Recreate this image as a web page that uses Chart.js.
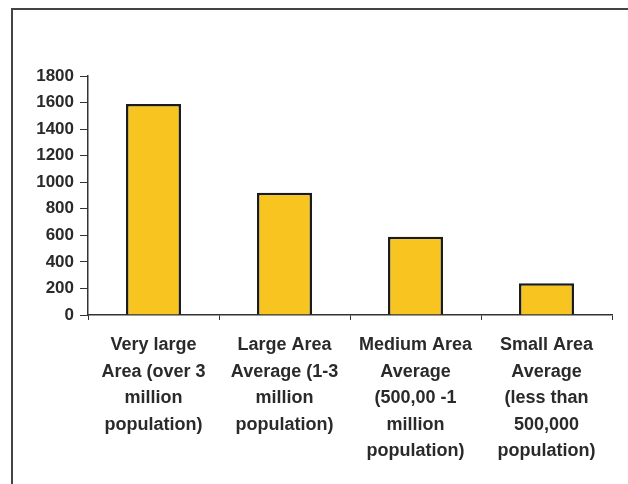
<!DOCTYPE html>
<html>
<head>
<meta charset="utf-8">
<script src="https://cdn.jsdelivr.net/npm/chart.js@4/dist/chart.umd.min.js"></script>
<style>
  html, body { margin: 0; padding: 0; background: #fff; }
  #wrap { position: relative; width: 628px; height: 484px; }
  #frame { position: absolute; left: 11px; top: 8px; right: 0; bottom: 0;
           border-top: 2px solid #444; border-left: 2px solid #444; }
  canvas { position: absolute; left: 0; top: 0; }
</style>
</head>
<body>
<div id="wrap">
  <div id="frame"></div>
  <canvas id="area_chart" width="628" height="484"></canvas>
</div>
<script>
var categories = [
  ['Very large', 'Area (over 3', 'million', 'population)'],
  ['Large Area', 'Average (1-3', 'million', 'population)'],
  ['Medium Area', 'Average', '(500,00 -1', 'million', 'population)'],
  ['Small Area', 'Average', '(less than', '500,000', 'population)']
];
var values = [1590, 920, 590, 240];
var yTicks = [0, 200, 400, 600, 800, 1000, 1200, 1400, 1600, 1800];

const area_chart = document.querySelector("#area_chart").getContext("2d");

let chart1 = new Chart(area_chart, {
  type: 'bar',
  data: {
    labels: categories,
    datasets: [{
      data: values,
      backgroundColor: '#F8C520',
      borderColor: '#1c1c1c',
      borderWidth: 2.5,
      barPercentage: 0.42,
      categoryPercentage: 1
    }]
  },
  options: {
    responsive: false,
    animation: false,
    layout: {
      padding: { left: 12, right: 16, top: 76, bottom: 0 }
    },
    plugins: {
      legend: { display: false },
      tooltip: { enabled: false }
    },
    scales: {
      x: {
        grid: {
          drawOnChartArea: false,
          tickLength: 5,
          color: '#333',
          offset: true
        },
        border: { color: '#333', width: 1.5 },
        ticks: {
          maxRotation: 0,
          autoSkip: false,
          padding: 12,
          color: '#2a2a2a',
          font: { family: 'Liberation Sans, Arial', size: 18, weight: 'bold', lineHeight: 1.47 }
        },
        afterFit: function(scale) { scale.height = 169; }
      },
      y: {
        min: 0,
        max: 1800,
        afterBuildTicks: function(scale) {
          scale.ticks = yTicks.map(function(v) { return { value: v }; });
        },
        grid: {
          drawOnChartArea: false,
          tickLength: 8,
          color: '#333'
        },
        border: { color: '#333', width: 1.5 },
        ticks: {
          padding: 6,
          color: '#2a2a2a',
          font: { family: 'Liberation Sans, Arial', size: 17, weight: 'bold' },
          callback: function(v) { return String(v); }
        },
        afterFit: function(scale) { scale.width = 76; }
      }
    }
  }
});
</script>
</body>
</html>
